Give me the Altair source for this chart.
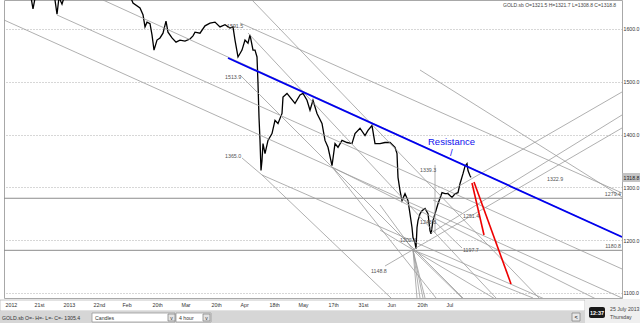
import altair as alt
import pandas as pd

FONT = "Liberation Sans"

# ---------------- price series (4-hour bar index, price) ----------------
price_t = [0, 10, 20, 27, 29, 31, 40, 50, 53, 55, 58, 62, 80, 100, 115, 125, 129, 136, 139, 141,
           143, 146, 148, 150, 153, 156, 159, 162, 164, 168, 172, 176, 181, 186, 189, 191, 196, 201,
           206, 211, 216, 221, 226, 229, 231, 234, 238, 241, 244, 246, 249, 251, 253, 254, 255, 256,
           257, 258, 259, 261, 264, 268, 271, 274, 278, 279, 283, 286, 291, 296, 299, 303, 306, 309,
           313, 318, 321, 324, 328, 331, 334, 338, 343, 348, 351, 356, 361, 364, 368, 371, 376, 381,
           386, 391, 393, 394, 396, 398, 401, 404, 406, 408, 409, 411, 412, 413, 414, 416, 418, 421,
           424, 426, 427, 429, 431, 434, 438, 441, 444, 448, 451, 454, 456, 459, 461, 463, 464, 466, 467]
price_v = [1695, 1685, 1672, 1660, 1638, 1658, 1680, 1668, 1628, 1660, 1647, 1672, 1688, 1682, 1676,
           1668, 1649, 1640, 1627, 1604, 1613, 1610, 1589, 1560, 1579, 1583, 1592, 1615, 1594, 1583,
           1575, 1579, 1577, 1581, 1587, 1594, 1592, 1606, 1611, 1613, 1604, 1608, 1602, 1604, 1579,
           1547, 1560, 1579, 1573, 1589, 1560, 1560, 1547, 1497, 1433, 1389, 1332, 1351, 1383, 1364,
           1389, 1402, 1427, 1421, 1440, 1471, 1478, 1471, 1459, 1475, 1478, 1465, 1446, 1465, 1440,
           1421, 1389, 1376, 1341, 1383, 1376, 1389, 1385, 1383, 1402, 1412, 1398, 1408, 1417, 1383,
           1383, 1385, 1385, 1376, 1364, 1319, 1294, 1275, 1288, 1275, 1250, 1224, 1205, 1195, 1184,
           1224, 1237, 1250, 1256, 1260, 1250, 1218, 1212, 1237, 1250, 1269, 1290, 1288, 1288, 1281,
           1288, 1290, 1307, 1326, 1340, 1345, 1332, 1322, 1319]

# ---------------- drawn trend lines ----------------
grey_t1 = [0, 53, 99, 236, 244, 248, 236, 258, 258, 238, 328, 328, 431, 381, 427, 443,
           409, 409, 409, 409, 409, 409, 376, 376, 429, 429, 416]
grey_p1 = [1617.0, 1626.5, 1654.9, 1611.4, 1592.4, 1654.9, 1512.9, 1323.5, 1323.5, 1355.7, 1338.6,
           1338.6, 1342.4, 1151.1, 1213.6, 1289.4, 1181.4, 1181.4, 1181.4, 1181.4, 1181.4, 1181.4,
           1219.3, 1266.7, 1276.1, 1238.3, 1522.3]
grey_t2 = [618, 618, 618, 618, 492, 535, 459, 618, 387, 258, 618, 432, 431, 618, 618, 618,
           413, 416, 419, 421, 458, 529, 618, 409, 458, 458, 618]
grey_p2 = [1090.5, 1145.5, 1206.1, 1289.4, 1090.5, 1090.5, 1090.5, 1024.2, 1090.5, 1323.5, 1064.0,
           1090.5, 1213.6, 1412.5, 1437.1, 1480.7, 1090.5, 1090.5, 1090.5, 1090.5, 1090.5, 1090.5,
           944.7, 1181.4, 1251.5, 1185.2, 1281.8]

blue_t1, blue_p1, blue_t2, blue_p2 = [224], [1545.1], [618], [1206.1]
red_t1 = [468, 470]
red_p1 = [1308.3, 1310.2]
red_t2 = [480, 507]
red_p2 = [1209.9, 1117.1]

h_levels = [1279.4, 1180.8]

# ---------------- level labels ----------------
lvl_text = ["1591.5", "1513.9", "1365.0", "1339.3", "1322.9", "1251.4", "1243.3", "1202.4",
            "1197.7", "1148.8"]
lvl_t = [223, 221, 221, 416, 543, 459, 416, 396, 459, 367]
lvl_p = [1605.7, 1509.1, 1359.5, 1333.0, 1315.9, 1245.8, 1234.5, 1200.4, 1181.4, 1141.7]
lvr_text = ["1279.4", "1180.8"]
lvr_t = [617, 617]
lvr_p = [1287.5, 1189.0]

x_tick_t = [1, 30, 59, 89, 118, 148, 177, 207, 236, 265, 294, 324, 354, 383, 413, 442]
x_tick_lab = ["2012", "21st", "2013", "22nd", "Feb", "20th", "Mar", "20th", "Apr", "18th", "May",
              "17th", "31st", "Jun", "20th", "Jul"]
y_ticks = [1100, 1200, 1300, 1400, 1500, 1600]
last_close = 1318.8
info_text = "GOLD.sb O=1321.5 H=1321.7 L=1308.8 C=1318.8"

W, H = 618, 298

expr = "".join(f"datum.value=={v}?'{l}':" for v, l in zip(x_tick_t, x_tick_lab)) + "''"

X = alt.X("t:Q", scale=alt.Scale(domain=[0, 618], nice=False, zero=False),
          axis=alt.Axis(values=x_tick_t, labelExpr=expr, title=None, grid=False, domain=False,
                        ticks=False, labelPadding=4, labelFontSize=5.3, labelColor="#333",
                        labelAlign="left", labelFont=FONT, labelOverlap=False, labelFlush=False,
                        zindex=2))
Y = alt.Y("p:Q", scale=alt.Scale(domain=[1090.5, 1654.9], nice=False, zero=False),
          axis=alt.Axis(orient="right", values=y_ticks, format=".1f", title=None, grid=True,
                        gridDash=[1, 2], gridColor="#9a9a9a", gridWidth=0.8, domain=False,
                        ticks=False, labelPadding=1, labelFontSize=5.2, labelColor="#333",
                        labelFont=FONT, labelOverlap=False, labelFlush=False))

def segs(t1, p1, t2, p2):
    return pd.DataFrame({"t": t1, "p": p1, "t2": t2, "p2": p2})

price = alt.Chart(pd.DataFrame({"t": price_t, "p": price_v})).mark_line(
    color="black", strokeWidth=1.3, clip=True).encode(x=X, y=Y)

grey = alt.Chart(segs(grey_t1, grey_p1, grey_t2, grey_p2)).mark_rule(
    color="#9c9c9c", strokeWidth=0.8, clip=True).encode(x=X, y=Y, x2="t2:Q", y2="p2:Q")

hl = alt.Chart(pd.DataFrame({"p": h_levels})).mark_rule(
    color="#8c8c8c", strokeWidth=1).encode(y=Y)

blue = alt.Chart(segs(blue_t1, blue_p1, blue_t2, blue_p2)).mark_rule(
    color="#0000ee", strokeWidth=1.8, clip=True).encode(x=X, y=Y, x2="t2:Q", y2="p2:Q")

red = alt.Chart(segs(red_t1, red_p1, red_t2, red_p2)).mark_rule(
    color="#ee0000", strokeWidth=1.6, clip=True).encode(x=X, y=Y, x2="t2:Q", y2="p2:Q")

lvl = alt.Chart(pd.DataFrame({"t": lvl_t, "p": lvl_p, "s": lvl_text})).mark_text(
    align="left", baseline="middle", fontSize=5.3, color="#555", font=FONT).encode(
    x=X, y=Y, text="s:N")
lvr = alt.Chart(pd.DataFrame({"t": lvr_t, "p": lvr_p, "s": lvr_text})).mark_text(
    align="right", baseline="middle", fontSize=5.3, color="#555", font=FONT).encode(
    x=X, y=Y, text="s:N")

res = alt.Chart(pd.DataFrame({"t": [424, 446], "p": [1386, 1365], "s": ["Resistance", "/"]})).mark_text(
    align="left", baseline="middle", fontSize=9.5, color="#1010ee", font=FONT).encode(
    x=X, y=Y, text="s:N")

info = alt.Chart(pd.DataFrame({"t": [499], "p": [1645.5], "s": [info_text]})).mark_text(
    align="left", baseline="middle", fontSize=5, color="#444", font=FONT).encode(
    x=X, y=Y, text="s:N")

one = pd.DataFrame({"a": [0]})

def box(x1, x2, y1, y2, fill, stroke=None, r=0):
    kw = dict(fill=fill, cornerRadius=r)
    if stroke:
        kw.update(stroke=stroke, strokeWidth=0.8)
    return alt.Chart(one).mark_rect(**kw).encode(
        x=alt.value(x1), x2=alt.value(x2), y=alt.value(y1), y2=alt.value(y2))

def txt(x, y, s, size=5.5, color="#333", align="left", weight="normal"):
    return alt.Chart(one).mark_text(align=align, baseline="middle", fontSize=size, color=color,
                                    font=FONT, fontWeight=weight, text=s).encode(
        x=alt.value(x), y=alt.value(y))

close_box = box(618.5, 636, 173, 182, "#c4c4c4")
close_txt = txt(619.5, 177.5, f"{last_close:.1f}", size=5.2, color="#222")

chrome = [
    box(-4, 581, 300, 311, "white", "#b8b8b8"),
    box(-4, 581, 311, 325, "#d6d6d6"),
    txt(-2, 317.5, "GOLD.sb O=- H=- L=- C=-   1305.4", size=5.2, color="#333"),
    box(88, 171, 313, 322, "white", "#9a9a9a"),
    txt(91, 317.5, "Candles", size=5.2),
    box(164, 171, 314, 321, "#e4e4e4", "#888"),
    txt(167.5, 317.5, "v", size=5, align="center"),
    box(172, 207, 313, 322, "white", "#9a9a9a"),
    txt(175, 317.5, "4 hour", size=5.2),
    box(199, 206, 314, 321, "#e4e4e4", "#888"),
    txt(202.5, 317.5, "v", size=5, align="center"),
    box(568, 576, 313, 321, "#e8e8e8", "#888"),
    txt(572, 317, "<", size=5.5, align="center", weight="bold"),
    box(581, 636, 299, 325, "#efefef"),
    box(585, 601, 307, 318, "#1a1a1a", r=2),
    txt(593, 312.5, "12:37", size=5.5, color="white", align="center", weight="bold"),
    txt(606, 309, "25 July 2013", size=5.2, color="#444"),
    txt(606, 317, "Thursday", size=5.2, color="#444"),
]

chart = alt.layer(*chrome, price, hl, grey, blue, red, lvl, lvr, res, info, close_box, close_txt,
                  ).properties(
    width=W, height=H,
    autosize=alt.AutoSizeParams(type="none"),
    padding={"left": 4, "top": 0, "right": 18, "bottom": 25},
    background="white",
).configure_view(stroke="#a8a8a8", strokeWidth=1)

chart.save("out.html", embed_options={"renderer": "svg", "actions": False})
